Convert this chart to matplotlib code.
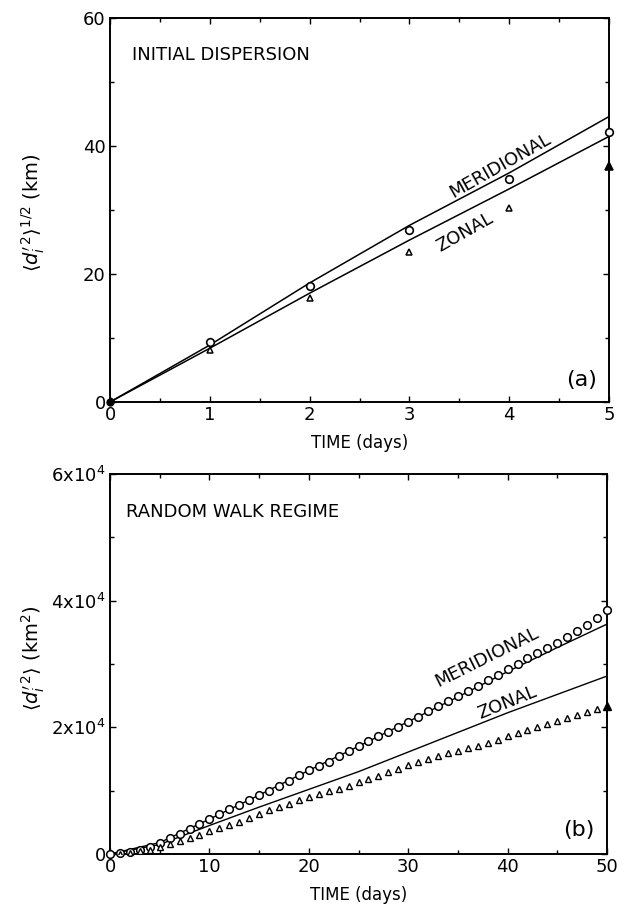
import matplotlib
matplotlib.use("Agg")
import matplotlib.pyplot as plt
from matplotlib.ticker import MultipleLocator, FixedLocator

# ---------------- data: panel (a) ----------------
days_a = [0, 1, 2, 3, 4, 5]
merid_pts_a = [0.0, 9.3, 18.1, 26.9, 34.8, 42.2]
zonal_pts_a = [0.0, 8.1, 16.2, 23.5, 30.3, 36.8]
merid_line_a = [0.0, 8.9, 18.6, 27.6, 35.8, 44.6]
zonal_line_a = [0.0, 8.4, 17.0, 25.3, 33.3, 41.5]

# ---------------- data: panel (b) ----------------
days_b = list(range(0, 51))
merid_pts_b = [0.00, 0.01, 0.03, 0.06, 0.11, 0.18, 0.25, 0.32, 0.39, 0.47,
               0.55, 0.63, 0.71, 0.78, 0.85, 0.93, 1.00, 1.08, 1.16, 1.24,
               1.32, 1.39, 1.46, 1.54, 1.62, 1.70, 1.78, 1.86, 1.93, 2.01,
               2.09, 2.17, 2.26, 2.34, 2.42, 2.50, 2.58, 2.66, 2.75, 2.83,
               2.92, 3.00, 3.09, 3.17, 3.25, 3.33, 3.42, 3.52, 3.62, 3.72,
               3.85]
zonal_pts_b = [0.00, 0.005, 0.02, 0.04, 0.07, 0.11, 0.15, 0.20, 0.25, 0.30,
               0.36, 0.41, 0.46, 0.51, 0.57, 0.63, 0.70, 0.74, 0.79, 0.85,
               0.90, 0.94, 0.99, 1.03, 1.08, 1.13, 1.18, 1.23, 1.29, 1.35,
               1.40, 1.45, 1.50, 1.54, 1.59, 1.63, 1.67, 1.71, 1.75, 1.80,
               1.86, 1.91, 1.96, 2.01, 2.06, 2.10, 2.15, 2.20, 2.25, 2.29,
               2.33]
line_days_b = [0, 5, 10, 15, 20, 25, 30, 35, 40, 45, 50]
merid_line_b = [0.0, 0.18, 0.55, 0.93, 1.32, 1.70, 2.09, 2.48, 2.88, 3.26, 3.63]
zonal_line_b = [0.0, 0.15, 0.45, 0.74, 1.02, 1.30, 1.61, 1.92, 2.23, 2.52, 2.81]
scale_b = 1e4

yticks_b = [0, 2e4, 4e4, 6e4]
yticklabels_b = ["0", r"2x10$^4$", r"4x10$^4$", r"6x10$^4$"]

plt.rcParams['font.family'] = ['DejaVu Sans']
plt.rcParams['mathtext.fontset'] = 'dejavusans'

fig = plt.figure(figsize=(6.25, 9.06), dpi=100)
ax1 = fig.add_axes([0.176, 0.5563, 0.7984, 0.4238])
ax2 = fig.add_axes([0.176, 0.0574, 0.7952, 0.4194])

for ax in (ax1, ax2):
    for s in ax.spines.values():
        s.set_linewidth(1.4)
    ax.tick_params(which='both', direction='in', top=True, right=True,
                   labelsize=13, width=1.0, pad=3)
    ax.tick_params(which='major', length=4)
    ax.tick_params(which='minor', length=3)

# ---- panel (a)
ax1.plot(days_a, merid_line_a, color='black', lw=1.1, zorder=2)
ax1.plot(days_a, zonal_line_a, color='black', lw=1.1, zorder=2)
ax1.plot(days_a[:-1], merid_pts_a[:-1], 'o', mfc='white', mec='black', ms=5.5, mew=1.2, zorder=3)
ax1.plot(days_a[-1:], merid_pts_a[-1:], 'o', mfc='white', mec='black', ms=5.5, mew=1.2, zorder=3, clip_on=False)
ax1.plot(days_a[1:-1], zonal_pts_a[1:-1], '^', mfc='white', mec='black', ms=5, mew=1.1, zorder=3)
ax1.plot(days_a[-1:], zonal_pts_a[-1:], '^', mfc='black', mec='black', ms=5.5, mew=1.1, zorder=3, clip_on=False)
ax1.plot(days_a[:1], merid_pts_a[:1], 'o', mfc='black', mec='black', ms=5, zorder=4, clip_on=False)
ax1.set_xlim(0, 5)
ax1.set_ylim(0, 60)
ax1.xaxis.set_major_locator(MultipleLocator(1))
ax1.xaxis.set_minor_locator(MultipleLocator(0.5))
ax1.yaxis.set_major_locator(MultipleLocator(20))
ax1.yaxis.set_minor_locator(MultipleLocator(10))
ax1.set_xlabel("TIME (days)", fontsize=12)
ax1.xaxis.set_label_coords(0.5, -0.083)
ax1.set_ylabel(r"$\langle d_i^{\prime\,2}\rangle^{1/2}$ (km)", fontsize=14)
ax1.yaxis.set_label_coords(-0.126, 0.492)
ax1.text(0.045, 0.905, "INITIAL DISPERSION", transform=ax1.transAxes,
         fontsize=13, ha='left', va='center')
ax1.text(0.975, 0.058, "(a)", transform=ax1.transAxes, fontsize=16,
         ha='right', va='center')
ax1.text(3.91, 36.9, "MERIDIONAL", rotation=29.5, rotation_mode='anchor',
         fontsize=13, ha='center', va='center')
ax1.text(3.56, 26.5, "ZONAL", rotation=29.5, rotation_mode='anchor',
         fontsize=13, ha='center', va='center')

# ---- panel (b)
mb = [v * scale_b for v in merid_pts_b]
zb = [v * scale_b for v in zonal_pts_b]
ax2.plot(line_days_b, [v * scale_b for v in merid_line_b], color='black', lw=1.0, zorder=2)
ax2.plot(line_days_b, [v * scale_b for v in zonal_line_b], color='black', lw=1.0, zorder=2)
ax2.plot(days_b, mb, 'o', mfc='white', mec='black', ms=5.5, mew=1.1, zorder=3, clip_on=False)
ax2.plot(days_b[1:-1], zb[1:-1], '^', mfc='white', mec='black', ms=5, mew=1.0, zorder=3)
ax2.plot(days_b[-1:], zb[-1:], '^', mfc='black', mec='black', ms=5.5, zorder=3, clip_on=False)
ax2.set_xlim(0, 50)
ax2.set_ylim(0, 6e4)
ax2.xaxis.set_major_locator(MultipleLocator(10))
ax2.xaxis.set_minor_locator(MultipleLocator(5))
ax2.yaxis.set_major_locator(FixedLocator(yticks_b))
ax2.yaxis.set_minor_locator(MultipleLocator(1e4))
ax2.set_yticklabels(yticklabels_b)
ax2.set_xlabel("TIME (days)", fontsize=12)
ax2.xaxis.set_label_coords(0.5, -0.084)
ax2.set_ylabel(r"$\langle d_i^{\prime\,2}\rangle$ (km$^2$)", fontsize=14)
ax2.yaxis.set_label_coords(-0.126, 0.516)
ax2.text(0.032, 0.90, "RANDOM WALK REGIME", transform=ax2.transAxes,
         fontsize=13, ha='left', va='center')
ax2.text(0.975, 0.063, "(b)", transform=ax2.transAxes, fontsize=16,
         ha='right', va='center')
ax2.text(37.9, 3.11e4, "MERIDIONAL", rotation=26.5, rotation_mode='anchor',
         fontsize=13, ha='center', va='center')
ax2.text(40.0, 2.39e4, "ZONAL", rotation=22, rotation_mode='anchor',
         fontsize=13, ha='center', va='center')

fig.savefig("out.png", dpi=100)
